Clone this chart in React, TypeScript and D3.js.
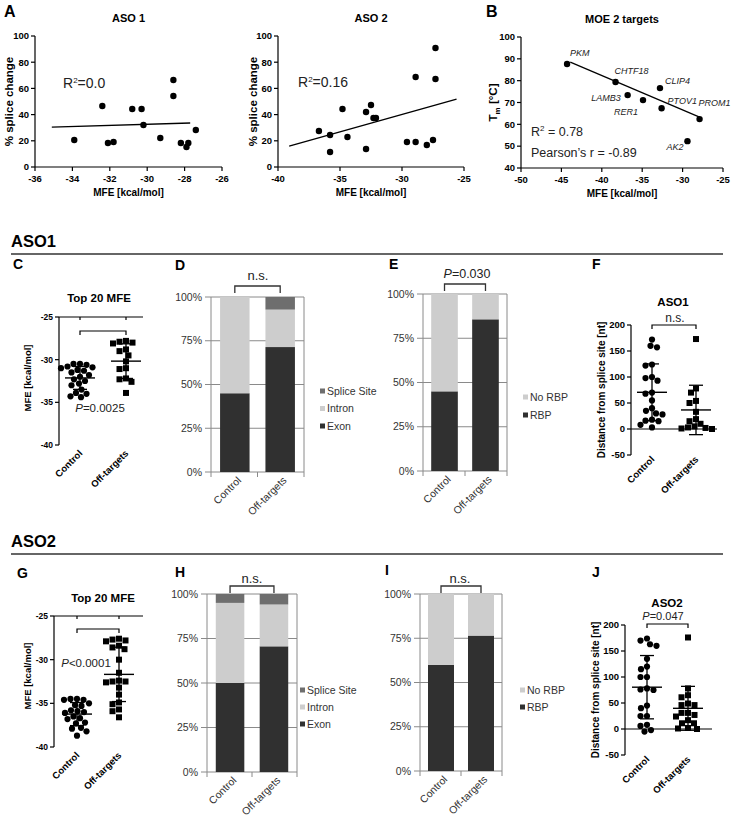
import * as d3 from "d3";
import React from "react";

const FONT = "Arial, 'Liberation Sans', Helvetica, sans-serif";
const CATS = ["Control", "Off-targets"];

// ---- A: % splice change vs MFE ----
const aso1Mfe = [-33.9, -32.4, -32.1, -31.8, -30.8, -30.3, -30.2, -29.3, -28.6, -28.6, -28.2, -27.9, -27.8, -27.4];
const aso1Splice = [20.6, 46.6, 18.3, 19.1, 44.3, 44.3, 32.1, 22.1, 66.4, 54.2, 18.3, 15.3, 18.3, 28.2];
const aso1FitMfe = [-35.1, -27.7];
const aso1FitSplice = [30.5, 33.6];

const aso2Mfe = [-36.7, -35.8, -35.8, -34.8, -34.4, -32.9, -32.9, -32.5, -32.3, -32.1, -29.6, -28.9, -28.9, -28.0, -27.5, -27.3, -27.3];
const aso2Splice = [27.5, 24.4, 11.5, 44.3, 22.9, 13.7, 42.0, 47.3, 37.4, 37.4, 19.1, 68.7, 19.1, 16.8, 20.6, 90.8, 67.2];
const aso2FitMfe = [-39.1, -25.6];
const aso2FitSplice = [16.0, 51.9];

// ---- B: Tm vs MFE for MOE targets ----
const moeGenes = ["PKM", "CHTF18", "LAMB3", "RER1", "CLIP4", "PTOV1", "PROM1", "AK2"];
const moeMfe = [-44.3, -38.3, -36.8, -34.9, -32.8, -32.6, -27.9, -29.4];
const moeTm = [87.6, 79.4, 73.4, 71.1, 76.6, 67.4, 62.4, 52.3];
const moeFitMfe = [-43.9, -27.9];
const moeFitTm = [88.5, 63.3];

// ---- C / G: top 20 MFE ----
const aso1CtrlMfe = [-30.5, -30.5, -30.6, -30.8, -30.9, -31.0, -31.2, -31.3, -31.5, -31.8, -32.0, -32.3, -32.5, -32.8, -33.0, -33.5, -33.9, -34.0, -34.3, -34.4];
const aso1OffMfe = [-27.8, -27.9, -28.0, -28.1, -28.8, -29.0, -29.5, -30.2, -31.0, -31.1, -32.2, -32.3, -32.6, -33.9];
const aso2CtrlMfe = [-34.5, -34.5, -34.6, -34.6, -35.0, -35.2, -35.3, -35.8, -35.9, -36.0, -36.1, -36.5, -36.7, -36.8, -37.2, -37.3, -37.8, -37.9, -38.2, -38.7];
const aso2OffMfe = [-27.6, -27.7, -27.8, -27.9, -28.4, -28.6, -28.8, -30.0, -31.5, -32.4, -32.5, -32.6, -32.5, -33.2, -34.0, -34.9, -35.1, -35.7, -35.9, -36.6];

// ---- D / H: region ; E / I: RBP (percent) ----
const aso1Exon = [45, 71.4];
const aso1Intron = [55, 21.4];
const aso1SpliceSite = [0, 7.2];
const aso1Rbp = [45, 85.7];
const aso1NoRbp = [55, 14.3];
const aso2Exon = [50, 70.6];
const aso2Intron = [45, 23.5];
const aso2SpliceSite = [5, 5.9];
const aso2Rbp = [60, 76.5];
const aso2NoRbp = [40, 23.5];

// ---- F / J: distance from splice site [nt] ----
const aso1CtrlDist = [172, 160, 157, 124, 122, 100, 98, 93, 70, 68, 55, 40, 35, 30, 28, 18, 16, 15, 8, 3];
const aso1OffDist = [173, 78, 70, 54, 50, 33, 19, 15, 10, 5, 3, 2, 1, 0];
const aso2CtrlDist = [174, 170, 163, 160, 135, 120, 115, 100, 100, 78, 76, 75, 45, 40, 25, 25, 8, 6, -2, -5];
const aso2OffDist = [176, 78, 65, 61, 49, 46, 46, 31, 31, 27, 24, 17, 11, 11, 2, 1, 0];

// label placement for gene names in B (dx, dy, anchor)
const geneLabelPos: [number, number, string][] = [
  [3, -8, "start"], [-1, -8, "start"], [-7, 6, "end"], [-5, 15, "end"],
  [5, -4, "start"], [6, -4, "start"], [-1, -13, "start"], [-4, 9, "end"],
];

const COL = { exon: "#303030", intron: "#cdcdcd", splice: "#6e6e6e", grid: "#8a8a8a" };

function swarm(vals: number[], y: (v: number) => number, gap: number) {
  const order = d3.range(vals.length).sort((a, b) => vals[b] - vals[a]);
  const placed: { x: number; y: number }[] = [];
  const out: number[] = new Array(vals.length).fill(0);
  for (const i of order) {
    const py = y(vals[i]);
    let best = 0;
    for (let k = 0; k < 400; k++) {
      const off = (k % 2 === 0 ? 1 : -1) * Math.ceil(k / 2) * 0.5;
      if (placed.every((p) => (p.x - off) ** 2 + (p.y - py) ** 2 >= gap * gap)) {
        best = off;
        break;
      }
    }
    placed.push({ x: best, y: py });
    out[i] = best;
  }
  return out;
}

function XYPanel(p: any) {
  const x = d3.scaleLinear().domain(p.xDomain).range([p.left, p.right]);
  const y = d3.scaleLinear().domain(p.yDomain).range([p.bottom, p.top]);
  const fit = d3
    .line<number>()
    .x((i) => x(p.fitX[i]))
    .y((i) => y(p.fitY[i]));
  return (
    <g>
      <line x1={p.left} x2={p.left} y1={p.top} y2={p.bottom} stroke="#000" strokeWidth={1.2} />
      <line x1={p.left} x2={p.right} y1={p.bottom} y2={p.bottom} stroke="#000" strokeWidth={1.2} />
      {p.yTicks.map((t: number) => (
        <g key={"y" + t}>
          <line x1={p.left - 4} x2={p.left} y1={y(t)} y2={y(t)} stroke="#000" strokeWidth={1.2} />
          <text x={p.left - 6} y={y(t) + 3.3} textAnchor="end" fontSize={9.5} fontWeight="bold">{t}</text>
        </g>
      ))}
      {p.xTicks.map((t: number) => (
        <g key={"x" + t}>
          <line x1={x(t)} x2={x(t)} y1={p.bottom} y2={p.bottom + 4} stroke="#000" strokeWidth={1.2} />
          <text x={x(t)} y={p.bottom + 15} textAnchor="middle" fontSize={9.5} fontWeight="bold">{t}</text>
        </g>
      ))}
      <path d={fit([0, 1]) || ""} stroke="#000" strokeWidth={1.3} fill="none" />
      {p.xs.map((v: number, i: number) => (
        <circle key={i} cx={x(v)} cy={y(p.ys[i])} r={3.2} fill="#000" />
      ))}
      {p.labels &&
        p.labels.map((g: string, i: number) => (
          <text key={g} x={x(p.xs[i]) + geneLabelPos[i][0]} y={y(p.ys[i]) + geneLabelPos[i][1]}
            textAnchor={geneLabelPos[i][2]} fontSize={9} fontStyle="italic" fill="#222">{g}</text>
        ))}
      <text x={(p.left + p.right) / 2} y={p.top - 14} textAnchor="middle" fontSize={11} fontWeight="bold">{p.title}</text>
      <text x={(p.left + p.right) / 2} y={p.bottom + 29} textAnchor="middle" fontSize={10} fontWeight="bold">MFE [kcal/mol]</text>
      <text transform={`translate(${p.yLabelX},${(p.top + p.bottom) / 2}) rotate(-90)`} textAnchor="middle" fontSize={11.5} fontWeight="bold">
        {p.yLabel}
      </text>
    </g>
  );
}

function DotPanel(p: any) {
  const y = d3.scaleLinear().domain(p.yDomain).range([p.bottom, p.top]);
  const x = d3.scalePoint().domain(CATS).range(p.catX);
  const groups = [p.ctrl, p.off];
  const bottomY = y(p.yDomain[0]);
  return (
    <g>
      <line x1={p.axisX} x2={p.axisX} y1={p.top} y2={p.bottom} stroke="#000" strokeWidth={1.2} />
      <line x1={p.axisX} x2={p.axisEnd} y1={y(p.xAxisAt)} y2={y(p.xAxisAt)} stroke="#000" strokeWidth={1.2} />
      {p.topTicks &&
        CATS.map((c) => (
          <line key={c} x1={x(c)} x2={x(c)} y1={y(p.xAxisAt)} y2={y(p.xAxisAt) + 3} stroke="#000" strokeWidth={1.2} />
        ))}
      {p.yTicks.map((t: number) => (
        <g key={t}>
          <line x1={p.axisX - 4} x2={p.axisX} y1={y(t)} y2={y(t)} stroke="#000" strokeWidth={1.2} />
          <text x={p.axisX - 6} y={y(t) + 3} textAnchor="end" fontSize={p.tickSize} fontWeight="bold">{t}</text>
        </g>
      ))}
      {groups.map((vals: number[], gi: number) => {
        const cx = x(CATS[gi]) as number;
        const offs = swarm(vals, y, 6.4);
        const m = d3.mean(vals) as number;
        const sd = d3.deviation(vals) as number;
        return (
          <g key={gi}>
            {vals.map((v, i) =>
              gi === 0 ? (
                <circle key={i} cx={cx + offs[i]} cy={y(v)} r={3.1} fill="#000" />
              ) : (
                <rect key={i} x={cx + offs[i] - 3} y={y(v) - 3} width={6} height={6} fill="#000" />
              )
            )}
            <line x1={cx - 15} x2={cx + 15} y1={y(m)} y2={y(m)} stroke="#000" strokeWidth={1.4} />
            <line x1={cx} x2={cx} y1={y(m + sd)} y2={y(m - sd)} stroke="#000" strokeWidth={1.3} />
            <line x1={cx - 7} x2={cx + 7} y1={y(m + sd)} y2={y(m + sd)} stroke="#000" strokeWidth={1.3} />
            <line x1={cx - 7} x2={cx + 7} y1={y(m - sd)} y2={y(m - sd)} stroke="#000" strokeWidth={1.3} />
          </g>
        );
      })}
      {CATS.map((c) => (
        <text key={c} transform={`translate(${(x(c) as number) + 3},${bottomY + p.catDy}) rotate(-45)`}
          textAnchor="end" fontSize={9.5} fontWeight="bold">{c}</text>
      ))}
      <path d={`M${x(CATS[0])},${p.bracketY + 4}V${p.bracketY}H${x(CATS[1])}V${p.bracketY + 4}`} stroke="#000" strokeWidth={1.2} fill="none" />
      {p.title && (
        <text x={p.titleX} y={p.titleY} textAnchor="middle" fontSize={11.5} fontWeight="bold">{p.title}</text>
      )}
      <text transform={`translate(${p.yLabelX},${p.yLabelY}) rotate(-90)`} textAnchor="middle" fontSize={p.yLabelSize} fontWeight="bold">
        {p.yLabel}
      </text>
    </g>
  );
}

function BarPanel(p: any) {
  const x = d3.scaleBand().domain(CATS).range([p.left, p.right]).paddingInner(0.35).paddingOuter(0.2);
  const y = d3.scaleLinear().domain([0, 100]).range([p.bottom, p.top]);
  const keys = p.series.map((s: any) => s.name);
  const rows = CATS.map((c, i) => {
    const r: any = { cat: c };
    p.series.forEach((s: any) => (r[s.name] = s.values[i]));
    return r;
  });
  const stacked = d3.stack().keys(keys)(rows);
  const mid = (p.left + p.right) / 2;
  return (
    <g>
      {[0, 25, 50, 75, 100].map((t) => (
        <g key={t}>
          <line x1={p.left - 6} x2={p.right} y1={y(t)} y2={y(t)} stroke={COL.grid} strokeWidth={1} />
          <text x={p.left - 9} y={y(t) + 3.6} textAnchor="end" fontSize={10.5} fill="#333">{t}%</text>
        </g>
      ))}
      {stacked.map((layer: any, li: number) =>
        layer.map((d: any, i: number) => (
          <rect key={li + "-" + i} x={x(CATS[i])} width={x.bandwidth()} y={y(d[1])}
            height={Math.max(0, y(d[0]) - y(d[1]))} fill={p.series[li].color} />
        ))
      )}
      <line x1={p.left} x2={p.left} y1={p.top} y2={p.bottom} stroke={COL.grid} strokeWidth={1} />
      <line x1={p.right} x2={p.right} y1={p.top} y2={p.bottom} stroke={COL.grid} strokeWidth={1} />
      {[p.left, mid, p.right].map((v, i) => (
        <line key={i} x1={v} x2={v} y1={p.bottom} y2={p.bottom + 5} stroke={COL.grid} strokeWidth={1} />
      ))}
      {CATS.map((c) => (
        <text key={c} transform={`translate(${(x(c) as number) + x.bandwidth() / 2 + 7},${p.bottom + 9}) rotate(-45)`}
          textAnchor="end" fontSize={10.5} fill="#333">{c}</text>
      ))}
      {p.series
        .slice()
        .reverse()
        .map((s: any, i: number) => (
          <g key={s.name}>
            <rect x={p.legendX} y={p.legendY + i * p.legendStep - 2.5} width={5} height={5} fill={s.color} />
            <text x={p.legendX + 7} y={p.legendY + i * p.legendStep + 3.6} fontSize={10.5} fill="#333">{s.name}</text>
          </g>
        ))}
      <path
        d={`M${(x(CATS[0]) as number) + x.bandwidth() / 2},${p.bracketY + 7}V${p.bracketY}H${(x(CATS[1]) as number) + x.bandwidth() / 2}V${p.bracketY + 7}`}
        stroke="#333" strokeWidth={1.3} fill="none" />
    </g>
  );
}

function PText({ x, y, rest, size }: any) {
  return (
    <text x={x} y={y} textAnchor="middle" fontSize={size} fill="#222">
      <tspan fontStyle="italic">P</tspan>
      {rest}
    </text>
  );
}

export default function App() {
  const R2 = (v: string) => (
    <>
      R<tspan dy={-5} fontSize={8}>2</tspan>
      <tspan dy={5}>{v}</tspan>
    </>
  );
  return (
    <svg width={735} height={821} fontFamily={FONT} style={{ position: "absolute", left: 0, top: 0, background: "#fff" }}>
      <rect width={735} height={821} fill="#fff" />

      {/* Row A / B */}
      <text x={4} y={17} fontSize={16} fontWeight="bold">A</text>
      <text x={486} y={17} fontSize={16} fontWeight="bold">B</text>
      <XYPanel left={35} right={222} top={36} bottom={167} xDomain={[-36, -26]} yDomain={[0, 100]}
        xTicks={[-36, -34, -32, -30, -28, -26]} yTicks={[0, 20, 40, 60, 80, 100]}
        xs={aso1Mfe} ys={aso1Splice} fitX={aso1FitMfe} fitY={aso1FitSplice}
        title="ASO 1" yLabel="% splice change" yLabelX={13} />
      <text x={63} y={88} fontSize={14} fill="#222">{R2("=0.0")}</text>
      <XYPanel left={278} right={464} top={36} bottom={167} xDomain={[-40, -25]} yDomain={[0, 100]}
        xTicks={[-40, -35, -30, -25]} yTicks={[0, 20, 40, 60, 80, 100]}
        xs={aso2Mfe} ys={aso2Splice} fitX={aso2FitMfe} fitY={aso2FitSplice}
        title="ASO 2" yLabel="% splice change" yLabelX={257} />
      <text x={298} y={87} fontSize={14} fill="#222">{R2("=0.16")}</text>
      <XYPanel left={521} right={723} top={37} bottom={168} xDomain={[-50, -25]} yDomain={[40, 100]}
        xTicks={[-50, -45, -40, -35, -30, -25]} yTicks={[40, 50, 60, 70, 80, 90, 100]}
        xs={moeMfe} ys={moeTm} fitX={moeFitMfe} fitY={moeFitTm} labels={moeGenes}
        title="MOE 2 targets" yLabelX={497}
        yLabel={<>T<tspan dy={3} fontSize={8}>m</tspan><tspan dy={-3}> [°C]</tspan></>} />
      <text x={531} y={136} fontSize={12.5} fill="#222">{R2(" = 0.78")}</text>
      <text x={531} y={157} fontSize={12.5} fill="#222">Pearson’s r = -0.89</text>

      {/* ASO1 section */}
      <text x={11} y={247} fontSize={16.5} fontWeight="bold">ASO1</text>
      <line x1={11} x2={723} y1={254} y2={254} stroke="#333" strokeWidth={1.3} />
      <text x={13} y={269} fontSize={14} fontWeight="bold">C</text>
      <text x={175} y={270} fontSize={14} fontWeight="bold">D</text>
      <text x={389} y={269} fontSize={14} fontWeight="bold">E</text>
      <text x={592} y={269} fontSize={14} fontWeight="bold">F</text>

      <DotPanel axisX={59} axisEnd={143} top={317} bottom={445} yDomain={[-40, -25]} xAxisAt={-25} topTicks
        catX={[80, 126]} yTicks={[-25, -30, -35, -40]} tickSize={8.5} ctrl={aso1CtrlMfe} off={aso1OffMfe}
        bracketY={331} catDy={9} title="Top 20 MFE" titleX={99} titleY={302}
        yLabel="MFE [kcal/mol]" yLabelX={31} yLabelY={378} yLabelSize={9.5} />
      <PText x={100} y={412} size={11.5} rest="=0.0025" />

      <BarPanel left={211} right={304} top={297} bottom={472}
        series={[
          { name: "Exon", values: aso1Exon, color: COL.exon },
          { name: "Intron", values: aso1Intron, color: COL.intron },
          { name: "Splice Site", values: aso1SpliceSite, color: COL.splice },
        ]}
        legendX={320} legendY={391} legendStep={17.5} bracketY={286} />
      <text x={258} y={280} textAnchor="middle" fontSize={13} fill="#222">n.s.</text>

      <BarPanel left={423} right={507} top={294} bottom={471}
        series={[
          { name: "RBP", values: aso1Rbp, color: COL.exon },
          { name: "No RBP", values: aso1NoRbp, color: COL.intron },
        ]}
        legendX={523} legendY={397} legendStep={18} bracketY={284} />
      <PText x={467} y={278} size={12.5} rest="=0.030" />

      <DotPanel axisX={631} axisEnd={717} top={325} bottom={455} yDomain={[-50, 200]} xAxisAt={0}
        catX={[652, 696]} yTicks={[-50, 0, 50, 100, 150, 200]} tickSize={9.5} ctrl={aso1CtrlDist} off={aso1OffDist}
        bracketY={325} catDy={5} title="ASO1" titleX={673} titleY={306}
        yLabel="Distance from splice site [nt]" yLabelX={605} yLabelY={390} yLabelSize={10} />
      <text x={675} y={322} textAnchor="middle" fontSize={12} fill="#222">n.s.</text>

      {/* ASO2 section */}
      <text x={11} y={547} fontSize={16.5} fontWeight="bold">ASO2</text>
      <line x1={11} x2={723} y1={554} y2={554} stroke="#333" strokeWidth={1.3} />
      <text x={17} y={578} fontSize={14} fontWeight="bold">G</text>
      <text x={175} y={577} fontSize={14} fontWeight="bold">H</text>
      <text x={385} y={575} fontSize={14} fontWeight="bold">I</text>
      <text x={592} y={577} fontSize={14} fontWeight="bold">J</text>

      <DotPanel axisX={54} axisEnd={143} top={616} bottom={747} yDomain={[-40, -25]} xAxisAt={-25} topTicks
        catX={[77, 119]} yTicks={[-25, -30, -35, -40]} tickSize={8.5} ctrl={aso2CtrlMfe} off={aso2OffMfe}
        bracketY={629} catDy={9} title="Top 20 MFE" titleX={103} titleY={602}
        yLabel="MFE [kcal/mol]" yLabelX={31} yLabelY={676} yLabelSize={9.5} />
      <PText x={86} y={667} size={11.5} rest="<0.0001" />

      <BarPanel left={207} right={297} top={594} bottom={772}
        series={[
          { name: "Exon", values: aso2Exon, color: COL.exon },
          { name: "Intron", values: aso2Intron, color: COL.intron },
          { name: "Splice Site", values: aso2SpliceSite, color: COL.splice },
        ]}
        legendX={300} legendY={690} legendStep={17} bracketY={586} />
      <text x={252} y={583} textAnchor="middle" fontSize={13} fill="#222">n.s.</text>

      <BarPanel left={420} right={502} top={594} bottom={771}
        series={[
          { name: "RBP", values: aso2Rbp, color: COL.exon },
          { name: "No RBP", values: aso2NoRbp, color: COL.intron },
        ]}
        legendX={520} legendY={690} legendStep={17} bracketY={586} />
      <text x={460} y={583} textAnchor="middle" fontSize={13} fill="#222">n.s.</text>

      <DotPanel axisX={625} axisEnd={712} top={625} bottom={755} yDomain={[-50, 200]} xAxisAt={0}
        catX={[647, 688]} yTicks={[-50, 0, 50, 100, 150, 200]} tickSize={9.5} ctrl={aso2CtrlDist} off={aso2OffDist}
        bracketY={624} catDy={5} title="ASO2" titleX={667} titleY={607}
        yLabel="Distance from splice site [nt]" yLabelX={599} yLabelY={690} yLabelSize={10} />
      <PText x={663} y={620} size={11} rest="=0.047" />
    </svg>
  );
}
